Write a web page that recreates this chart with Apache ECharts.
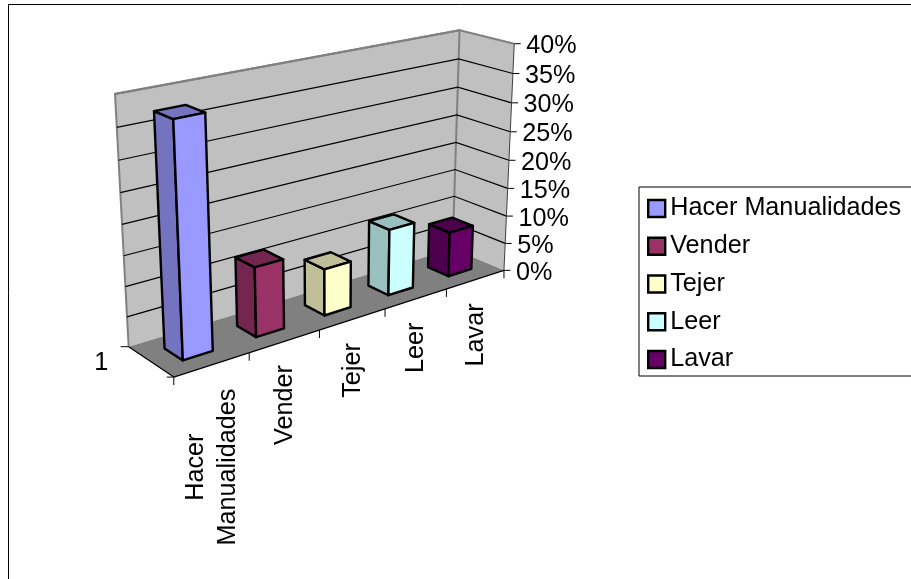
<!DOCTYPE html>
<html><head><meta charset="utf-8">
<style>html,body{margin:0;padding:0;background:#fff}#c{width:911px;height:579px}</style>
<script src="https://cdn.jsdelivr.net/npm/echarts@6/dist/echarts.min.js"></script>
</head><body><div id="c"></div>
<script>
const categories = ['Hacer Manualidades','Vender','Tejer','Leer','Lavar'];
const axisLabels = ['Hacer\nManualidades','Vender','Tejer','Leer','Lavar'];
const values = [37.6, 11.7, 8, 11.6, 8];
const tickValues = [0,5,10,15,20,25,30,35,40];
const groupLabel = '1';
const frontColors = ['#9999FF','#993366','#FFFFCC','#CCFFFF','#660066'];
const sideColors = ['#7373BF','#732650','#BFBF99','#99BFBF','#4D004D'];

const FONT = '25.2px "Liberation Sans", Arial, sans-serif';
const G = {left:173, top:44, width:331, height:224};
// Perspective camera fitted to the reference's box corners: (u, v, w) -> screen
const fit = [
 [0,0,0,173,378],[1,0,0,504,269],[0,0,1,129,346],[1,0,1,452,251],
 [0,1,1,115,95],[1,1,1,460,30],[1,1,0,514,44],
 [.2,0,0,250,353],[.4,0,0,319,330],[.6,0,0,385,309],[.8,0,0,447,288],
 [1,.25,0,506.5,216],[1,.5,0,509,160.7],[1,.75,0,511.5,103.3],
 [1,.25,1,454,196],[1,.5,1,456,141.7],[1,.75,1,458,86.7],
 [0,.25,1,126,287],[0,.5,1,122,223],[0,.75,1,118,160]
];
function solve(pts){
  const n=11, A=Array.from({length:n},()=>new Array(n+1).fill(0));
  const add=(r,b)=>{for(let i=0;i<n;i++){for(let j=0;j<n;j++)A[i][j]+=r[i]*r[j];A[i][n]+=r[i]*b;}};
  pts.forEach(([u,v,w,x,y])=>{
    add([u,v,w,1,0,0,0,0,-x*u,-x*v,-x*w],x);
    add([0,0,0,0,u,v,w,1,-y*u,-y*v,-y*w],y);
  });
  for(let c=0;c<n;c++){
    let p=c;for(let r=c+1;r<n;r++)if(Math.abs(A[r][c])>Math.abs(A[p][c]))p=r;
    [A[c],A[p]]=[A[p],A[c]];
    for(let r=0;r<n;r++){if(r===c)continue;const f=A[r][c]/A[c][c];for(let j=c;j<=n;j++)A[r][j]-=f*A[c][j];}
  }
  return A.map((r,i)=>r[n]/r[i]);
}
const H=solve(fit);
function P(u,v,w){
  const d=H[8]*u+H[9]*v+H[10]*w+1;
  return [(H[0]*u+H[1]*v+H[2]*w+H[3])/d,(H[4]*u+H[5]*v+H[6]*w+H[7])/d];
}
const toU=x=>(x-G.left)/G.width, toV=y=>(G.top+G.height-y)/G.height;
const poly=(points,fill,stroke,lw)=>({type:'polygon',silent:true,shape:{points},style:{fill,stroke:stroke||null,lineWidth:lw||0,lineJoin:'round'}});
const line=(points,stroke,lw)=>({type:'polyline',silent:true,shape:{points},style:{fill:null,stroke,lineWidth:lw}});
const text=(t,x,y,extra)=>({type:'text',silent:true,x,y,rotation:extra&&extra.rotation||0,style:Object.assign({text:t,fill:'#000',font:FONT,
  textAlign:extra&&extra.align||'left',align:extra&&extra.align||'left',textVerticalAlign:'middle',verticalAlign:'middle'},extra&&extra.style||{})});
const mctx=document.createElement('canvas').getContext('2d');mctx.font=FONT;

const series=[];
// walls and floor
series.push({type:'custom',name:'_walls',coordinateSystem:'cartesian2d',z:1,silent:true,data:[[0,0]],
 renderItem(){
  const c=[P(0,0,1),P(1,0,1),P(1,1,1),P(0,1,1)], s=[P(1,0,1),P(1,0,0),P(1,1,0),P(1,1,1)], f=[P(0,0,0),P(1,0,0),P(1,0,1),P(0,0,1)];
  return {type:'group',children:[
    poly(c,'#C0C0C0'),poly(s,'#C0C0C0'),poly(f,'#808080'),
    line([P(0,0,1),P(0,1,1),P(1,1,1),P(1,0,1)],'#808080',2),
    line([P(1,1,1),P(1,1,0)],'#808080',2)
  ]};
 }});
// value gridlines, ticks and labels
series.push({type:'custom',name:'_grid',coordinateSystem:'cartesian2d',z:2,silent:true,data:tickValues.map(t=>[0,t]),
 renderItem(params,api){
  const val=api.value(1), v=toV(api.coord([0,val])[1]);
  const a=P(0,v,1),b=P(1,v,1),c=P(1,v,0);
  const ch=[];
  if(val>0&&val<40) ch.push(line([a,b,c],'#000',1.2));
  if(val===40) ch.push(line([a,b],'#808080',2));
  ch.push(line([c,[c[0]+6.5,c[1]]],'#000',1));
  ch.push(text(val+'%',c[0]+12,c[1]+2.5));
  return {type:'group',children:ch};
 }});
// axis lines
series.push({type:'custom',name:'_axes',coordinateSystem:'cartesian2d',z:3,silent:true,data:[[0,0]],
 renderItem(){
  const o=P(0,0,0),r=P(1,0,0),k=P(0,0,1);
  return {type:'group',children:[
    line([o,r],'#000',1.2),line([o,k],'#000',1.2),line([r,P(1,1,0)],'#404040',1),
    line([[k[0]-8,k[1]],k],'#000',1),line([[o[0]-7,o[1]],o],'#000',1),
    line([o,[o[0],o[1]+8]],'#000',1),
    text(groupLabel,(k[0]+o[0])/2-50,(k[1]+o[1])/2+1.5,{align:'center'})
  ]};
 }});
// category ticks and rotated labels
series.push({type:'custom',name:'_labels',coordinateSystem:'cartesian2d',z:3,silent:true,data:categories.map((c,i)=>[i,0]),
 renderItem(params,api){
  const i=params.dataIndex, bw=api.size([1,0])[0]/G.width;
  const uc=toU(api.coord([i,0])[0]), e=P(uc+bw/2,0,0), m=P(uc,0,0);
  const lab=axisLabels[i], len=Math.max(...lab.split('\n').map(s=>mctx.measureText(s).width));
  return {type:'group',children:[
    line([e,[e[0],e[1]+8]],'#000',1),
    text(lab,m[0],m[1]+24+len/2,{align:'center',rotation:Math.PI/2,style:{lineHeight:32}})
  ]};
 }});
// bars
categories.forEach((name,i)=>{
 series.push({type:'custom',name,coordinateSystem:'cartesian2d',z:5,silent:true,
  itemStyle:{color:frontColors[i]},
  data:[[i,values[i]]],
  renderItem(params,api){
   const p=api.coord([api.value(0),api.value(1)]), half=api.size([1,0])[0]*0.2/G.width;
   const u0=toU(p[0])-half,u1=toU(p[0])+half,v=toV(p[1]),w0=.3,w1=.7;
   return {type:'group',children:[
    poly([P(u0,0,w1),P(u0,0,w0),P(u0,v,w0),P(u0,v,w1)],sideColors[i],'#000',2.4),
    poly([P(u0,v,w0),P(u1,v,w0),P(u1,v,w1),P(u0,v,w1)],sideColors[i],'#000',2.4),
    poly([P(u0,0,w0),P(u1,0,w0),P(u1,v,w0),P(u0,v,w0)],frontColors[i],'#000',2.4)
   ]};
  }});
});

const chart=echarts.init(document.getElementById('c'),null,{renderer:'canvas'});
chart.setOption({
 animation:false,backgroundColor:'#fff',
 textStyle:{fontFamily:'"Liberation Sans", Arial, sans-serif'},
 graphic:[{type:'rect',silent:true,z:-1,shape:{x:8.5,y:4.5,width:1200,height:1000},style:{fill:'#fff',stroke:'#000',lineWidth:1}}],
 tooltip:{show:false},
 legend:{show:true,left:639,top:187,orient:'vertical',data:categories,selectedMode:false,
  padding:[9,40,4,8],itemGap:12.75,itemWidth:17,itemHeight:17,icon:'rect',
  backgroundColor:'#fff',borderColor:'#000',borderWidth:1,
  itemStyle:{borderColor:'#000',borderWidth:2.4},
  textStyle:{fontSize:25.2,color:'#000',fontFamily:'"Liberation Sans", Arial, sans-serif',lineHeight:25}},
 grid:{left:G.left,top:G.top,width:G.width,height:G.height,show:false},
 xAxis:{type:'category',data:categories,show:false},
 yAxis:{type:'value',min:0,max:40,interval:5,show:false},
 series
});
</script></body></html>
